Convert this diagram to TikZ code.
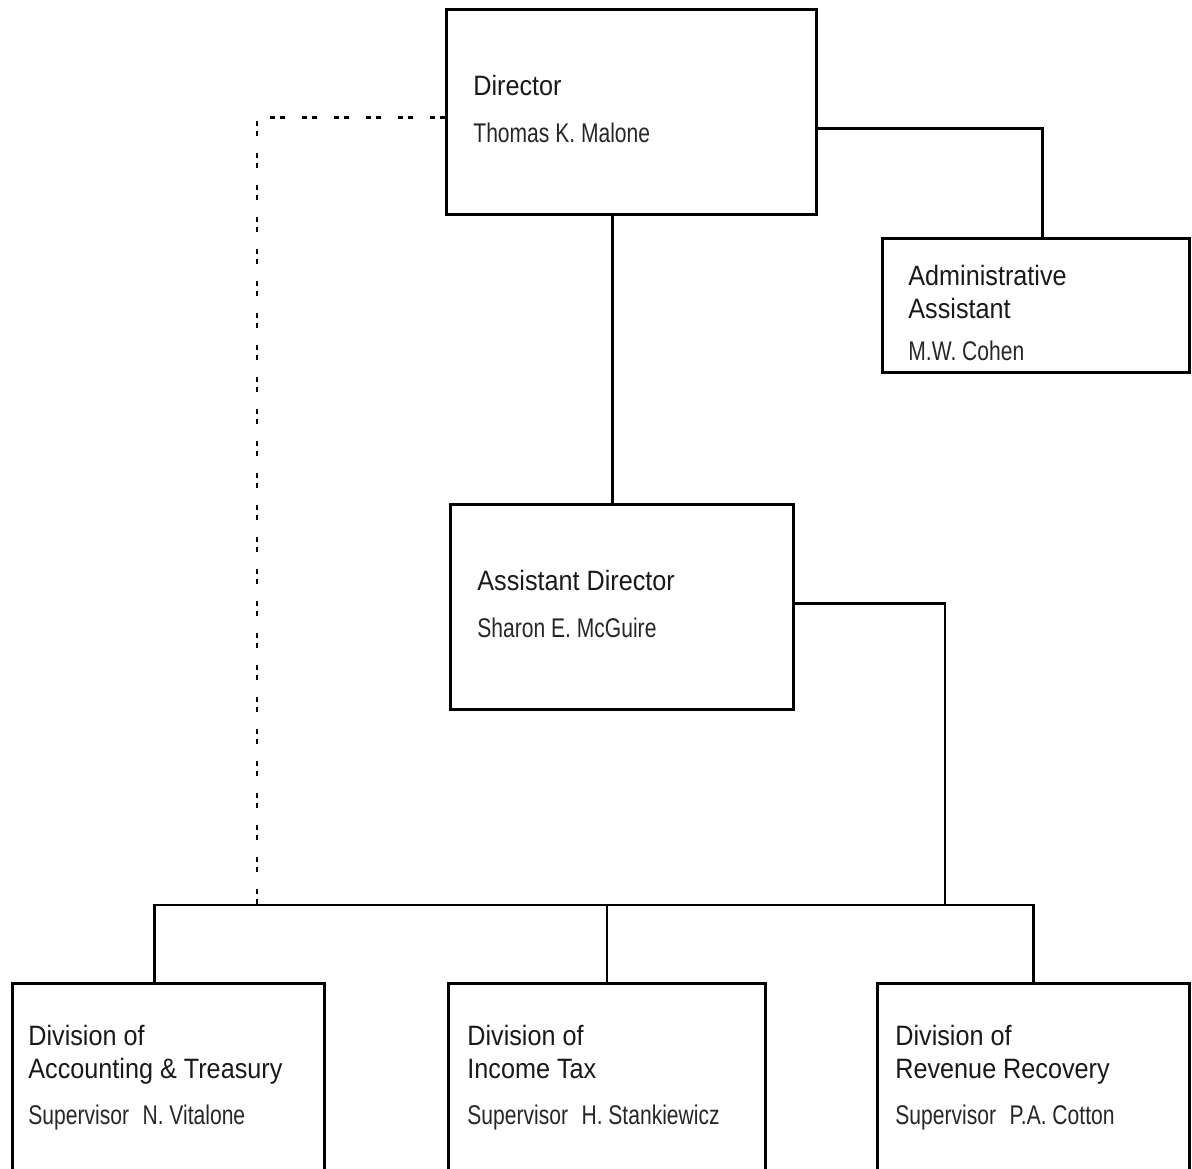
\documentclass[tikz,border=0pt]{standalone}
\usepackage{fontspec}
\setmainfont{Liberation Sans}
\newfontfamily\headfont{Liberation Sans}[FakeStretch=0.9]
\newfontfamily\namefont{Liberation Sans}[FakeStretch=0.78]
\usetikzlibrary{positioning}

\begin{document}
\begin{tikzpicture}[x=0.5pt,y=-0.5pt,
        box/.style = {
            draw,
            line width=1.4pt,
            anchor=north west,
            inner sep=0pt,
            minimum height={102.5pt}
        },
        head/.style = {anchor=base west, inner sep=0pt, align=left,
            font=\headfont\fontsize{14}{16.5}\selectfont, text=black!90},
        who/.style = {anchor=base west, inner sep=0pt,
            font=\namefont\fontsize{13.5}{16}\selectfont, text=black!85},
        link/.style = {line width=1.1pt},
        dotlink/.style = {line width=1.1pt, dash pattern=on 2.5pt off 2.5pt on 2.5pt off 8.5pt}]

        \useasboundingbox (0,0) rectangle (1192,1168);
        \clip (0,0) rectangle (1192,1168);

        % boxes
        \node[box, minimum width=185pt] (dir) at (445,8) {};
        \node[box, minimum width=153.5pt, minimum height=67pt] (adm) at (881,237) {};
        \node[box, minimum width=171.5pt] (ad) at (449,503) {};
        \node[box, minimum width=156pt, minimum height=109pt] (acct) at (11,982) {};
        \node[box, minimum width=158.5pt, minimum height=109pt] (inc) at (447,982) {};
        \node[box, minimum width=156pt, minimum height=109pt] (rev) at (876,982) {};

        % texts (base of a two-line heading is its last line)
        \node[head] (dirT) at (473,95) {Director};
        \node[who] (dirN) at (473,142) {Thomas K. Malone};
        \node[head] (admT) at (908,318) {Administrative\\Assistant};
        \node[who] (admN) at (908,360) {M.W. Cohen};
        \node[head] (adT) at (477,590) {Assistant Director};
        \node[who] (adN) at (477,637) {Sharon E. McGuire};
        \node[head] (acctT) at (28,1078) {Division of\\Accounting \& Treasury};
        \node[who] (acctN) at (28,1124) {Supervisor\enspace N. Vitalone};
        \node[head] (incT) at (467,1078) {Division of\\Income Tax};
        \node[who] (incN) at (467,1124) {Supervisor\enspace H. Stankiewicz};
        \node[head] (revT) at (895,1078) {Division of\\Revenue Recovery};
        \node[who] (revN) at (895,1124) {Supervisor\enspace P.A. Cotton};

        % connectors
        \coordinate (jn) at (945,905);
        \coordinate (dt) at (257,905);
        \draw[link] ([xshift=-4.75pt]ad.north) -- ([xshift=-4.75pt]ad.north |- dir.south);
        \draw[link] ([yshift=-8.25pt]dir.east) -| ([xshift=3.25pt]adm.north);
        \draw[link] ([yshift=1.75pt]ad.east) -| (jn);
        \draw[link] ([xshift=-7pt]acct.north) |- (rev.north |- jn) -- (rev.north);
        \draw[link] (inc.north) -- (inc.north |- jn);
        \draw[dotlink] ([yshift=-2.75pt]dir.west) -| (dt);
    \end{tikzpicture}
\end{document}
